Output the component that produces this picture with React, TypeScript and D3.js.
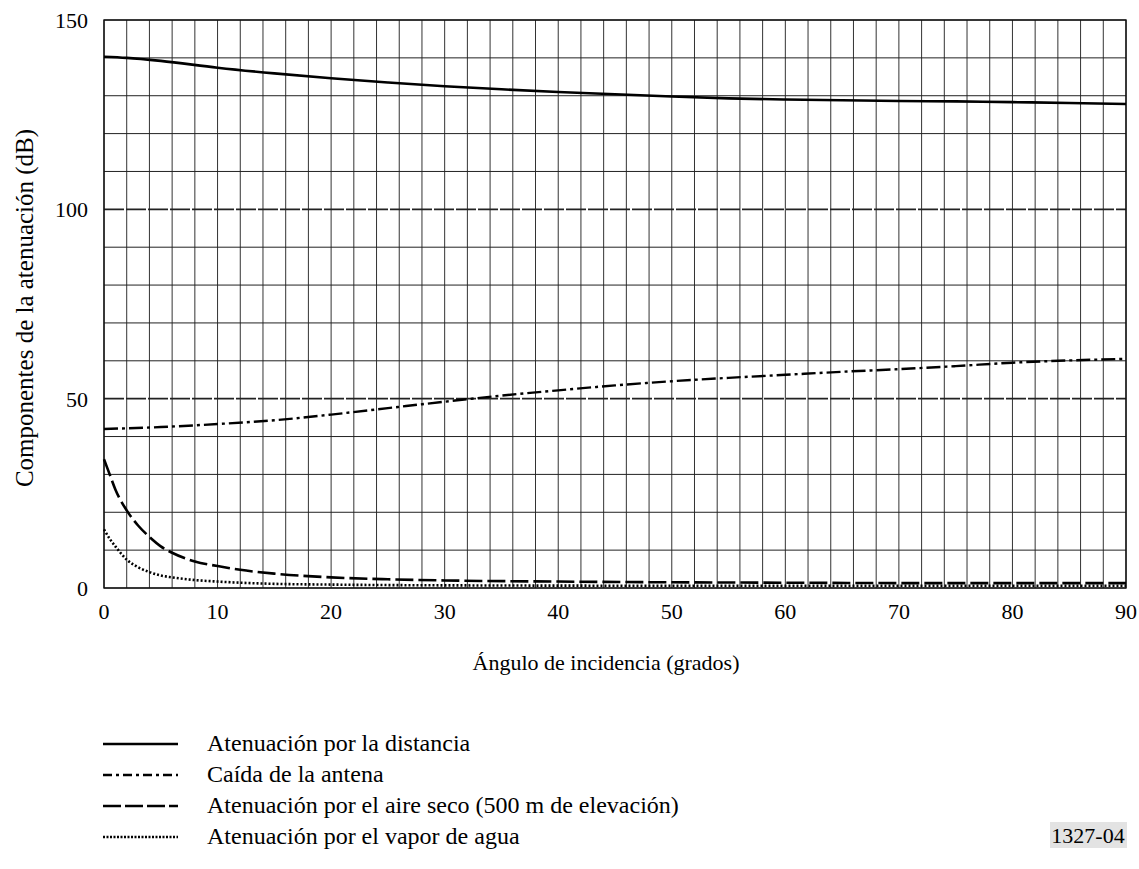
import { useEffect, useRef } from 'react'
import * as d3 from 'd3'

// values (angle in degrees, attenuation in dB)
const distanceAngles = [0, 2, 5, 10, 15, 20, 25, 30, 35, 40, 45, 50, 55, 60, 65, 70, 75, 80, 85, 90]
const distanceValues = [140.3, 140.0, 139.2, 137.4, 135.9, 134.6, 133.5, 132.5, 131.7, 131.0, 130.4, 129.8, 129.3, 129.0, 128.8, 128.6, 128.5, 128.3, 128.1, 127.8]

const antennaAngles = [0, 5, 10, 15, 20, 25, 30, 35, 40, 45, 50, 55, 60, 65, 70, 75, 80, 85, 90]
const antennaValues = [42.0, 42.5, 43.3, 44.3, 45.8, 47.5, 49.2, 50.8, 52.2, 53.5, 54.6, 55.5, 56.3, 57.1, 57.8, 58.6, 59.5, 60.1, 60.5]

const dryAirAngles = [0, 0.5, 1, 2, 3, 4, 5, 6, 8, 10, 12, 15, 20, 25, 30, 40, 50, 60, 70, 80, 90]
const dryAirValues = [34, 30, 26, 20.5, 16.5, 13.5, 11, 9.3, 7, 5.8, 4.8, 3.8, 2.8, 2.3, 2.0, 1.7, 1.5, 1.4, 1.3, 1.3, 1.3]

const vaporAngles = [0, 0.5, 1, 2, 3, 4, 5, 6, 8, 10, 12, 15, 20, 30, 50, 70, 90]
const vaporValues = [15.5, 13, 11, 7.5, 5.5, 4.2, 3.3, 2.8, 2.1, 1.7, 1.4, 1.1, 0.9, 0.7, 0.6, 0.6, 0.6]

const xTicks = [0, 10, 20, 30, 40, 50, 60, 70, 80, 90]
const yTicks = [0, 50, 100, 150]

const seriesNames = [
  'Atenuación por la distancia',
  'Caída de la antena',
  'Atenuación por el aire seco (500 m de elevación)',
  'Atenuación por el vapor de agua',
]

const xLabel = 'Ángulo de incidencia (grados)'
const yLabel = 'Componentes de la atenuación (dB)'
const figureId = '1327-04'

const width = 1139
const height = 869
const margin = { top: 20, right: 13, bottom: 281, left: 104 }
const font = 'Times New Roman, Times, Liberation Serif, Tinos, Noto Serif, DejaVu Serif, serif'

export default function App() {
  const svgRef = useRef<SVGSVGElement>(null)

  useEffect(() => {
    if (!svgRef.current) return
    const svg = d3.select(svgRef.current)
    svg.selectAll('*').remove()

    const x = d3.scaleLinear().domain([0, 90]).range([margin.left, width - margin.right])
    const y = d3.scaleLinear().domain([0, 150]).range([height - margin.bottom, margin.top])

    const styles = [
      { angles: distanceAngles, values: distanceValues, dash: null, legendDash: null, w: 2.6 },
      { angles: antennaAngles, values: antennaValues, dash: '14,4,3,4', legendDash: '9,4,3,4', w: 2.4 },
      { angles: dryAirAngles, values: dryAirValues, dash: '18,5', legendDash: '18,4', w: 2.6 },
      { angles: vaporAngles, values: vaporValues, dash: '2,2', legendDash: '2,1.5', w: 2.6 },
    ]

    // grid
    const grid = svg.append('g')
    grid
      .selectAll('line.v')
      .data(d3.range(0, 91, 2))
      .join('line')
      .attr('x1', (d) => x(d))
      .attr('x2', (d) => x(d))
      .attr('y1', y(0))
      .attr('y2', y(150))
      .attr('stroke', '#333')
      .attr('stroke-width', 1)
    grid
      .selectAll('line.h')
      .data(d3.range(0, 151, 10))
      .join('line')
      .attr('x1', x(0))
      .attr('x2', x(90))
      .attr('y1', (d) => y(d))
      .attr('y2', (d) => y(d))
      .attr('stroke', '#222')
      .attr('stroke-width', (d) => (d === 50 || d === 100 ? 1.6 : 1))
      .attr('stroke-dasharray', (d) => (d === 50 || d === 100 ? '20,2' : null))

    // frame
    svg
      .append('rect')
      .attr('x', x(0))
      .attr('y', y(150))
      .attr('width', x(90) - x(0))
      .attr('height', y(0) - y(150))
      .attr('fill', 'none')
      .attr('stroke', '#111')
      .attr('stroke-width', 1.4)

    // curves
    const line = d3
      .line<[number, number]>()
      .x((d) => x(d[0]))
      .y((d) => y(d[1]))
      .curve(d3.curveMonotoneX)

    styles.forEach((s) => {
      const pts = s.angles.map((a, i) => [a, s.values[i]] as [number, number])
      svg
        .append('path')
        .datum(pts)
        .attr('fill', 'none')
        .attr('stroke', '#000')
        .attr('stroke-width', s.w)
        .attr('stroke-dasharray', s.dash)
        .attr('d', line)
    })

    const txt = (sel: d3.Selection<any, any, any, any>, size: number) =>
      sel.attr('font-family', font).attr('font-size', size).attr('fill', '#000')

    // tick labels
    svg
      .append('g')
      .selectAll('text')
      .data(xTicks)
      .join('text')
      .attr('x', (d) => x(d))
      .attr('y', y(0) + 31)
      .attr('text-anchor', 'middle')
      .call(txt, 22)
      .text((d) => d)

    svg
      .append('g')
      .selectAll('text')
      .data(yTicks)
      .join('text')
      .attr('x', x(0) - 16)
      .attr('y', (d) => y(d) + 8)
      .attr('text-anchor', 'end')
      .call(txt, 22)
      .text((d) => d)

    // axis titles
    svg
      .append('text')
      .attr('x', 606)
      .attr('y', 670)
      .attr('text-anchor', 'middle')
      .call(txt, 22)
      .text(xLabel)

    svg
      .append('text')
      .attr('transform', `translate(33,308) rotate(-90)`)
      .attr('text-anchor', 'middle')
      .call(txt, 25)
      .text(yLabel)

    // legend
    const legend = svg.append('g')
    styles.forEach((s, i) => {
      const ly = 744 + i * 31
      legend
        .append('line')
        .attr('x1', 103)
        .attr('x2', 178)
        .attr('y1', ly)
        .attr('y2', ly)
        .attr('stroke', '#000')
        .attr('stroke-width', s.w)
        .attr('stroke-dasharray', s.legendDash)
      legend
        .append('text')
        .attr('x', 207)
        .attr('y', ly + 7)
        .call(txt, 24)
        .text(seriesNames[i])
    })

    // figure id
    const idG = svg.append('g')
    idG
      .append('rect')
      .attr('x', 1050)
      .attr('y', 822)
      .attr('width', 77)
      .attr('height', 26)
      .attr('fill', '#e3e3e3')
    idG
      .append('text')
      .attr('x', 1088)
      .attr('y', 843)
      .attr('text-anchor', 'middle')
      .call(txt, 22)
      .text(figureId)
  }, [])

  return (
    <svg
      ref={svgRef}
      width={width}
      height={height}
      style={{ position: 'absolute', left: 0, top: 0, background: '#fff' }}
    />
  )
}
